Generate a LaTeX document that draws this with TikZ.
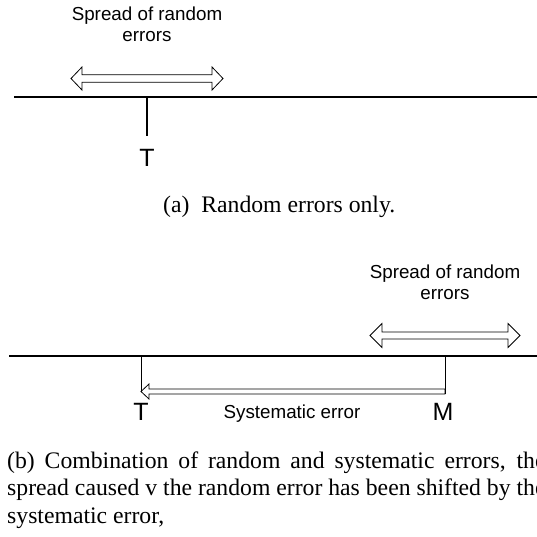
\documentclass[tikz,border=0pt]{standalone}
\usepackage{fontspec}
\setmainfont{Liberation Serif}
\newfontfamily\arialf{Liberation Sans}
\usetikzlibrary{calc}
\newlength\capw
\begin{document}
\begin{tikzpicture}[x=1pt,y=-1pt,
  axisline/.style={line width=1.2pt},
  hollow/.style={line width=0.8pt, line join=miter},
  lbl/.style={font=\arialf\fontsize{18.8}{21}\selectfont, align=center, inner sep=0},
  letter/.style={font=\arialf\fontsize{25}{28}\selectfont, inner sep=0, anchor=base},
  captxt/.style={font=\fontsize{23.7}{28}\selectfont, inner sep=0, anchor=base west}]
\useasboundingbox (0,0) rectangle (537,536);
\clip (0,0) rectangle (537,536);

% ---------- (a) ----------
\node[lbl] (sprlblA) at (147,24.7) {Spread of random\\errors};
\coordinate (sprA) at (147,78.5);
\draw[hollow] ($(sprA)+(-76,0)$) -- ++(11,-11.5) -- ++(0,7.7) -- ++(130,0) -- ++(0,-7.7)
  -- ++(11,11.5) -- ++(-11,11.5) -- ++(0,-7.7) -- ++(-130,0) -- ++(0,7.7) -- cycle;
\coordinate (axAl) at (14,97);
\coordinate (axAr) at (537,97);
\draw[axisline] (axAl) -- (axAr);
\coordinate (tickAtop) at (147,97);
\coordinate (tickAbot) at (147,136);
\draw[axisline] (tickAtop) -- (tickAbot);
\node[letter] (TA) at (147,166) {T};
\node[captxt] (capa) at (163,212) {(a)~ Random errors only.};

% ---------- (b) ----------
\node[lbl] (sprlblB) at (445,282) {Spread of random\\errors};
\coordinate (sprB) at (445,335.5);
\draw[hollow] ($(sprB)+(-75,0)$) -- ++(12,-12) -- ++(0,8.5) -- ++(126,0) -- ++(0,-8.5)
  -- ++(12,12) -- ++(-12,12) -- ++(0,-8.5) -- ++(-126,0) -- ++(0,8.5) -- cycle;
\coordinate (axBl) at (9,356);
\coordinate (axBr) at (537,356);
\draw[axisline] (axBl) -- (axBr);
\coordinate (Ttop) at (141,356);
\coordinate (Tb) at (141,391.5);
\coordinate (Mtop) at (445,356);
\coordinate (Mb) at (445,394);
\coordinate (Ms) at (445,391.5);
\draw[line width=1pt] (Ttop) -- (Tb);
\draw[line width=1pt] (Mtop) -- (Mb);
\draw[hollow] (Tb) -- ++(8,-7.5) -- ++(0,5) -- ($(Ms)+(0,-2.5)$) -- ++(0,5)
  -- ($(Tb)+(8,2.5)$) -- ++(0,5) -- cycle;
\node[letter] (TB) at (141,420) {T};
\node[letter] (MB) at (443,420) {M};
\node[lbl, anchor=base] (sys) at (292,418) {Systematic error};

\node[captxt] (capb1) at (7,468) {\settowidth{\capw}{spread caused v the random error has been shifted by the}\makebox[\capw][s]{(b) Combination of random and systematic errors, the}};
\node[captxt] (capb2) at (7,495.5) {spread caused v the random error has been shifted by the};
\node[captxt] (capb3) at (7,523) {systematic error,};
\end{tikzpicture}
\end{document}
